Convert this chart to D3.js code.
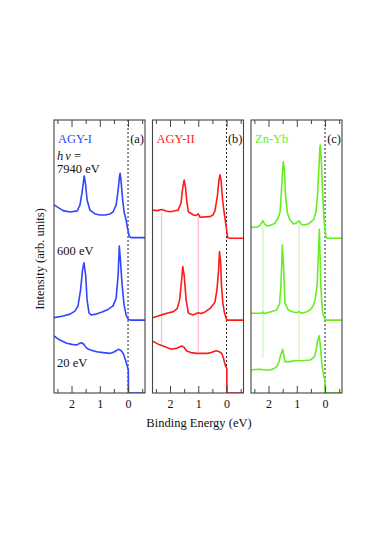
<!DOCTYPE html>
<html>
<head>
<meta charset="utf-8">
<script src="https://cdn.jsdelivr.net/npm/d3@7"></script>
<style>
  body { margin: 0; background: #fff; }
  svg { display: block; font-family: "Liberation Serif", "Times New Roman", serif; }
</style>
</head>
<body>
<svg></svg>
<script>
const WIDTH = 382;
const HEIGHT = 541;

// panel layout
const panelLeft = [54, 152.5, 251];
const panelW = 91;
const plotTop = 120;
const plotBottom = 393;

const samples = ["AGY-I", "AGY-II", "Zn-Yb"];
const tags = ["(a)", "(b)", "(c)"];
const colors = ["#2f45ff", "#ff1a1a", "#66ee22"];
const markColors = ["#ffb3d9", "#ffb3d9", "#cdf5b4"];
const photonLabels = ["7940 eV", "600 eV", "20 eV"];

const majorTicks = [2, 1, 0];
const minorTicks = [2.5, 1.5, 0.5, -0.5];

// [binding energy (eV), intensity (arb. units, offset included)]
const agy1_7940 = [[2.62,6.89],[2.30,6.68],[2.05,6.63],[1.80,6.67],[1.70,6.89],[1.63,7.33],[1.57,7.80],[1.55,7.95],[1.50,7.62],[1.45,7.07],[1.35,6.70],[1.17,6.56],[0.99,6.52],[0.81,6.52],[0.64,6.56],[0.53,6.63],[0.42,6.89],[0.35,7.44],[0.30,7.95],[0.28,8.05],[0.25,7.80],[0.19,7.07],[0.14,6.63],[0.07,6.34],[0.02,6.04],[-0.04,5.75],[-0.11,5.69],[-0.6,5.69]];
const agy1_600 = [[2.62,2.76],[2.30,2.82],[2.05,2.89],[1.88,3.00],[1.77,3.19],[1.68,3.77],[1.61,4.51],[1.56,4.77],[1.50,4.32],[1.45,3.41],[1.38,2.93],[1.31,2.86],[1.13,2.89],[0.92,2.97],[0.71,3.06],[0.53,3.19],[0.42,3.48],[0.35,4.32],[0.31,5.38],[0.27,4.87],[0.21,3.96],[0.14,3.22],[0.07,2.86],[0.00,2.71],[-0.07,2.67],[-0.6,2.67]];
const agy1_20 = [[2.62,2.09],[2.41,1.94],[2.17,1.82],[1.98,1.78],[1.82,1.76],[1.73,1.81],[1.64,1.84],[1.56,1.78],[1.49,1.67],[1.40,1.60],[1.27,1.56],[1.11,1.51],[0.88,1.48],[0.64,1.45],[0.50,1.50],[0.34,1.60],[0.25,1.56],[0.17,1.45],[0.09,1.21],[0.02,0.96],[-0.01,0.84],[-0.012,0.01],[-0.6,0.0]];

const agy2_7940 = [[2.62,6.70],[2.46,6.68],[2.29,6.72],[2.14,6.67],[2.00,6.64],[1.86,6.67],[1.71,6.70],[1.61,6.96],[1.56,7.44],[1.50,7.80],[1.45,7.51],[1.40,6.96],[1.35,6.64],[1.17,6.52],[1.08,6.50],[1.00,6.56],[0.94,6.44],[0.76,6.45],[0.58,6.46],[0.48,6.52],[0.41,6.67],[0.32,7.25],[0.27,7.80],[0.23,7.99],[0.19,7.73],[0.14,7.07],[0.08,6.58],[0.02,6.15],[-0.04,5.69],[-0.12,5.67],[-0.6,5.67]];
const agy2_600 = [[2.62,2.76],[2.42,2.82],[2.24,2.88],[2.07,2.93],[1.88,2.98],[1.75,3.08],[1.66,3.41],[1.59,4.14],[1.55,4.63],[1.50,4.32],[1.43,3.41],[1.35,2.93],[1.19,2.86],[1.05,2.92],[1.00,2.94],[0.90,2.91],[0.76,2.97],[0.58,3.10],[0.48,3.22],[0.41,3.34],[0.34,3.77],[0.28,4.51],[0.25,5.18],[0.21,4.80],[0.18,3.96],[0.13,3.30],[0.07,2.92],[-0.01,2.67],[-0.6,2.67]];
const agy2_20 = [[2.62,1.90],[2.42,1.79],[2.24,1.72],[2.07,1.65],[1.94,1.60],[1.76,1.64],[1.59,1.72],[1.50,1.67],[1.41,1.54],[1.26,1.48],[1.05,1.45],[0.90,1.45],[0.70,1.45],[0.55,1.48],[0.37,1.55],[0.27,1.52],[0.17,1.45],[0.11,1.28],[0.05,1.03],[-0.01,0.90],[-0.012,0.01],[-0.6,0.0]];

const znyb_7940 = [[2.62,6.07],[2.42,6.07],[2.30,6.14],[2.20,6.31],[2.14,6.19],[2.06,6.12],[1.91,6.15],[1.77,6.22],[1.66,6.41],[1.59,6.64],[1.54,7.44],[1.50,8.17],[1.48,8.47],[1.44,8.17],[1.40,7.25],[1.33,6.58],[1.24,6.34],[1.12,6.19],[1.01,6.23],[0.92,6.31],[0.85,6.19],[0.77,6.15],[0.60,6.19],[0.41,6.34],[0.32,6.63],[0.27,7.19],[0.22,8.17],[0.18,9.01],[0.17,9.08],[0.14,8.72],[0.11,7.99],[0.08,7.19],[0.04,6.41],[0.00,5.97],[-0.04,5.69],[-0.11,5.67],[-0.6,5.67]];
const znyb_600 = [[2.62,2.92],[2.37,2.92],[2.24,2.92],[2.20,2.96],[2.14,2.91],[1.95,2.97],[1.71,3.04],[1.61,3.26],[1.56,3.96],[1.53,4.80],[1.51,5.42],[1.47,4.69],[1.42,3.29],[1.30,3.04],[1.13,2.97],[1.00,2.94],[0.93,2.98],[0.82,2.92],[0.67,2.97],[0.53,3.04],[0.42,3.19],[0.35,3.41],[0.28,3.96],[0.23,5.24],[0.20,6.00],[0.18,5.24],[0.15,3.96],[0.11,3.22],[0.08,2.92],[0.00,2.70],[-0.04,2.67],[-0.6,2.67]];
const znyb_20 = [[2.62,0.84],[2.48,0.86],[2.30,0.87],[2.12,0.84],[1.95,0.84],[1.80,0.90],[1.71,0.96],[1.63,1.14],[1.57,1.39],[1.50,1.60],[1.45,1.32],[1.42,1.15],[1.24,1.15],[1.06,1.19],[0.88,1.18],[0.71,1.19],[0.53,1.21],[0.42,1.28],[0.35,1.39],[0.30,1.65],[0.27,1.88],[0.21,2.10],[0.18,1.87],[0.15,1.58],[0.12,1.14],[0.08,0.84],[0.04,0.60],[0.00,0.48],[-0.002,0.01],[-0.6,0.0]];

// guide lines: [energy, top intensity, bottom intensity]
const marksA = [];
const marksB = [[2.3, 6.59, 1.82], [1.0, 6.46, 1.51]];
const marksC = [[2.2, 6.08, 1.28], [0.92, 6.15, 1.18]];

const spectra = [
  [agy1_7940, agy1_600, agy1_20],
  [agy2_7940, agy2_600, agy2_20],
  [znyb_7940, znyb_600, znyb_20]
];
const marks = [marksA, marksB, marksC];

const svg = d3.select("svg").attr("width", WIDTH).attr("height", HEIGHT);

const y = d3.scaleLinear().domain([0, 10]).range([plotBottom, plotTop]);

svg.append("defs").selectAll("clipPath").data(panelLeft).enter()
  .append("clipPath").attr("id", (d, i) => "clip" + i)
  .append("rect")
  .attr("x", d => d).attr("y", plotTop)
  .attr("width", panelW).attr("height", plotBottom - plotTop);

panelLeft.forEach((left, i) => {
  const x = d3.scaleLinear().domain([2.62, -0.6]).range([left, left + panelW]);
  const g = svg.append("g");

  // guide lines
  g.selectAll("line.mark").data(marks[i]).enter()
    .append("line").attr("class", "mark")
    .attr("x1", d => x(d[0])).attr("x2", d => x(d[0]))
    .attr("y1", d => y(d[1])).attr("y2", d => y(d[2]))
    .attr("stroke", markColors[i]).attr("stroke-width", 1.2);

  // Fermi level
  g.append("line")
    .attr("x1", x(0)).attr("x2", x(0))
    .attr("y1", plotTop).attr("y2", plotBottom)
    .attr("stroke", "#222").attr("stroke-width", 1)
    .attr("stroke-dasharray", "2,2");

  const line = d3.line().x(d => x(d[0])).y(d => y(d[1])).curve(d3.curveLinear);

  g.append("g").attr("clip-path", "url(#clip" + i + ")")
    .selectAll("path").data(spectra[i]).enter()
    .append("path")
    .attr("d", line)
    .attr("fill", "none")
    .attr("stroke", colors[i])
    .attr("stroke-width", 1.6)
    .attr("stroke-linejoin", "round");

  // axes
  const bottom = g.append("g").attr("transform", `translate(0,${plotBottom})`)
    .call(d3.axisBottom(x).tickValues(majorTicks).tickSize(-7).tickPadding(6).tickFormat(d3.format("d")));
  g.append("g").attr("transform", `translate(0,${plotBottom})`)
    .call(d3.axisBottom(x).tickValues(minorTicks).tickSize(-4).tickFormat(""));
  g.append("g").attr("transform", `translate(0,${plotTop})`)
    .call(d3.axisTop(x).tickValues(majorTicks).tickSize(-7).tickFormat(""));
  g.append("g").attr("transform", `translate(0,${plotTop})`)
    .call(d3.axisTop(x).tickValues(minorTicks).tickSize(-4).tickFormat(""));
  g.selectAll(".domain").remove();
  g.selectAll(".tick line").attr("stroke", "#444");
  bottom.selectAll("text").attr("font-size", 12).attr("fill", "#111")
    .attr("font-family", "Liberation Serif, serif");

  g.append("rect")
    .attr("x", left).attr("y", plotTop)
    .attr("width", panelW).attr("height", plotBottom - plotTop)
    .attr("fill", "none").attr("stroke", "#444").attr("stroke-width", 1.1);

  g.append("text").attr("x", left + 4).attr("y", 142.5)
    .attr("font-size", 12.5).attr("fill", colors[i]).text(samples[i]);
  g.append("text").attr("x", left + panelW - 1).attr("y", 142.5)
    .attr("text-anchor", "end").attr("font-size", 12.5).attr("fill", "#111").text(tags[i]);
});

// photon energy labels
const hv = svg.append("text").attr("x", 57).attr("y", 159.5).attr("font-size", 12.5).attr("fill", "#111");
hv.append("tspan").attr("font-style", "italic").text("h");
hv.append("tspan").attr("font-style", "italic").attr("dx", 2).text("ν");
hv.append("tspan").text(" =");

const photonY = [172.5, 255, 366.5];
svg.selectAll("text.hv").data(photonLabels).enter()
  .append("text").attr("class", "hv")
  .attr("x", 57).attr("y", (d, i) => photonY[i])
  .attr("font-size", 12.5).attr("fill", "#111").text(d => d);

svg.append("text")
  .attr("x", 199).attr("y", 427)
  .attr("text-anchor", "middle").attr("font-size", 12.5).attr("fill", "#111")
  .text("Binding Energy (eV)");

svg.append("text")
  .attr("transform", "translate(43.5,259) rotate(-90)")
  .attr("text-anchor", "middle").attr("font-size", 12.5).attr("fill", "#111")
  .text("Intensity (arb. units)");
</script>
</body>
</html>
